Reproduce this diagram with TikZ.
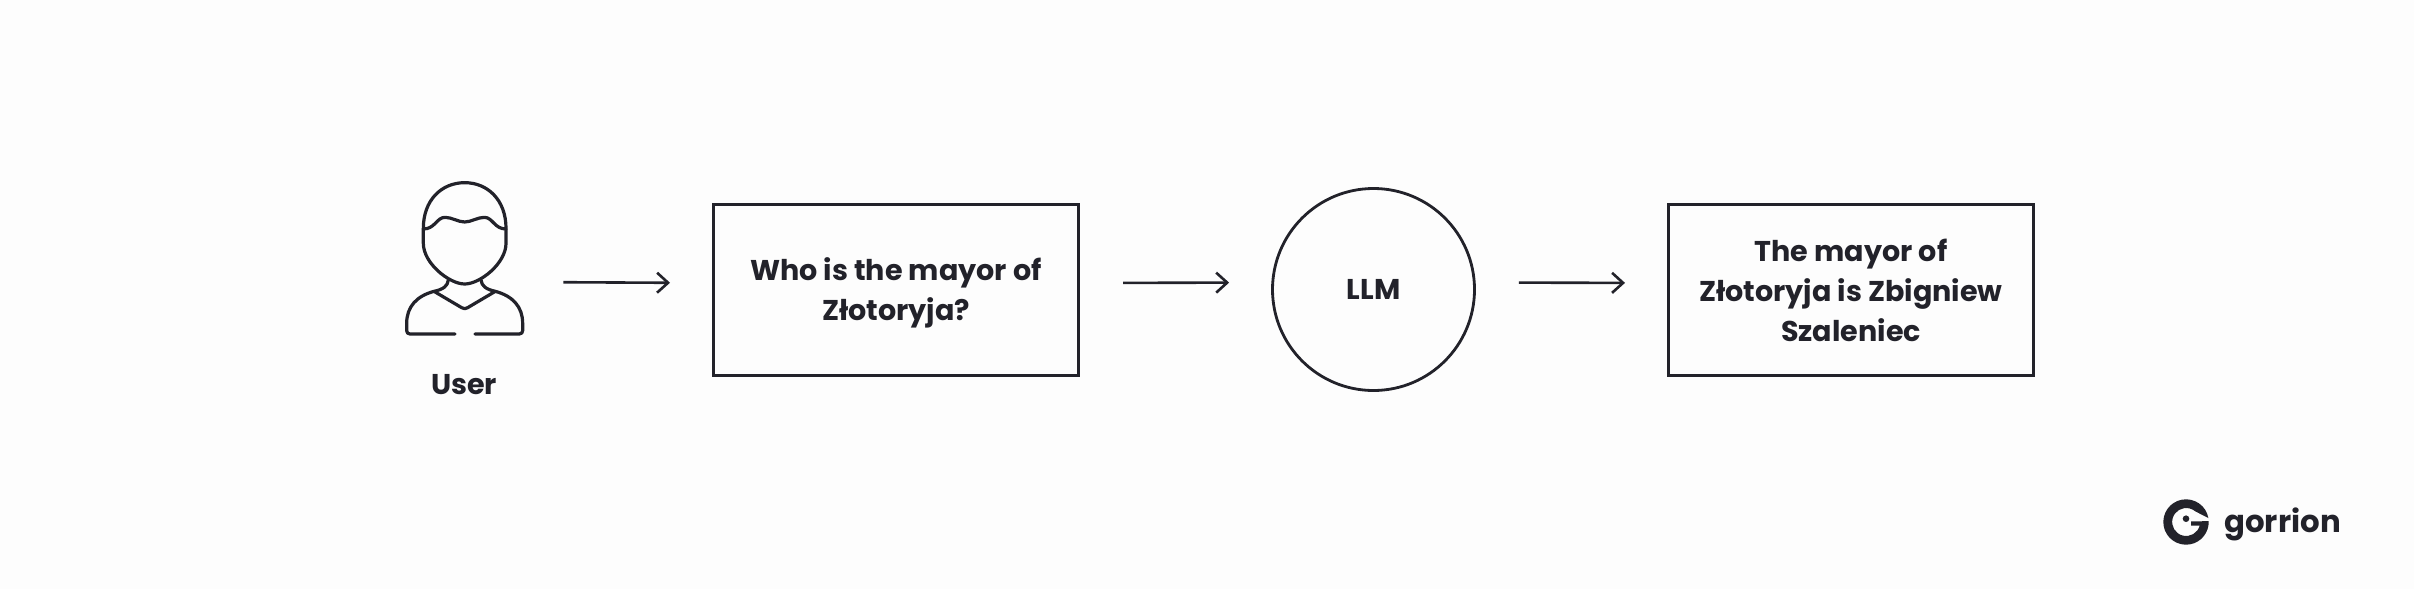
\documentclass[tikz,border=0pt]{standalone}
\usepackage{fontspec}
\usepackage{tikz}
\usetikzlibrary{arrows.meta}
\setmainfont{Poppins}
\definecolor{inkdark}{HTML}{22222A}
\definecolor{paperwhite}{HTML}{FDFDFD}
\tikzset{
	labeltext/.style={font=\fontsize{14.3}{20}\selectfont\bfseries, text=inkdark, align=center},
	flowbox/.style={labeltext, draw=inkdark, line width=1.5pt, minimum width=182.5pt, minimum height=85.5pt, inner sep=0pt},
	flowcircle/.style={labeltext, draw=inkdark, line width=1.4pt, circle, minimum size=101pt, inner sep=0pt},
	iconline/.style={draw=inkdark, line width=1.6pt, line cap=round, line join=round},
	flowarrow/.style={draw=inkdark, line width=1.3pt, shorten >=21pt, shorten <=21.5pt, -{Straight Barb[length=5.5pt, width=10pt, line width=1.3pt]}}
}
\begin{document}
\begin{tikzpicture}[x=0.5pt, y=-0.5pt]
	\useasboundingbox[fill=paperwhite] (0,0) rectangle (2414,589);
	% nodes
	\node[minimum width=56pt, minimum height=86pt, inner sep=0pt] (user) at (464,289) {};
	\node[labeltext] (userlabel) at (464,384.5) {User};
	\node[flowbox] (question) at (896,290) {\rule{0pt}{14pt}Who is the mayor of\\Złotoryja?};
	\node[flowcircle] (llm) at (1373.5,289.5) {LLM};
	\node[flowbox] (answer) at (1851,290) {The mayor of\\Złotoryja is Zbigniew\\Szaleniec};
	% person
	\begin{scope}[shift={(380,160)}, x=0.16667pt, y=-0.16667pt]
		\draw[iconline] (130,205) .. controls (130,120) and (185,68) .. (254,68) .. controls (323,68) and (378,120) .. (378,205) -- (378,250) .. controls (378,310) and (300,372) .. (254,372) .. controls (208,372) and (130,310) .. (130,250) -- cycle;
		\draw[iconline] (130,207) .. controls (165,207) and (170,172) .. (195,172) .. controls (215,172) and (235,186) .. (254,186) .. controls (273,186) and (293,172) .. (313,172) .. controls (338,172) and (343,207) .. (378,207);
		\draw[iconline] (205,360) .. controls (203,378) and (190,388) .. (162,394) .. controls (110,408) and (80,440) .. (80,490) -- (80,512) .. controls (80,518) and (84,522) .. (90,522) -- (225,522);
		\draw[iconline] (303,360) .. controls (305,378) and (318,388) .. (346,394) .. controls (398,408) and (428,440) .. (428,490) -- (428,512) .. controls (428,518) and (424,522) .. (418,522) -- (285,522);
		\draw[iconline] (162,394) -- (245,443) .. controls (251,447) and (257,447) .. (263,443) -- (346,394);
	\end{scope}
	% arrows
	\draw[flowarrow] ([yshift=3.5pt]user.east) -- ([yshift=3.5pt]question.west);
	\draw[flowarrow] ([yshift=3.5pt]question.east) -- ([yshift=3.5pt]llm.west);
	\draw[flowarrow] ([yshift=3.5pt]llm.east) -- ([yshift=3.5pt]answer.west);
	% logo
	\fill[inkdark] (2208.35,518.06) arc[start angle=10, end angle=362, radius=11.35pt] -- (2191,521.3) -- (2191,525.5) -- (2199.7,525.5) arc[start angle=-14.5, end angle=-310, radius=7pt] -- cycle;
	\node[circle, fill=inkdark, minimum size=3.3pt, inner sep=0pt] (logodot) at (2186,518.7) {};
	\node[font=\fontsize{15.4}{16}\selectfont\bfseries, text=inkdark, anchor=west, inner sep=0pt] (logotext) at (2224,524) {gorrion};
\end{tikzpicture}
\end{document}
